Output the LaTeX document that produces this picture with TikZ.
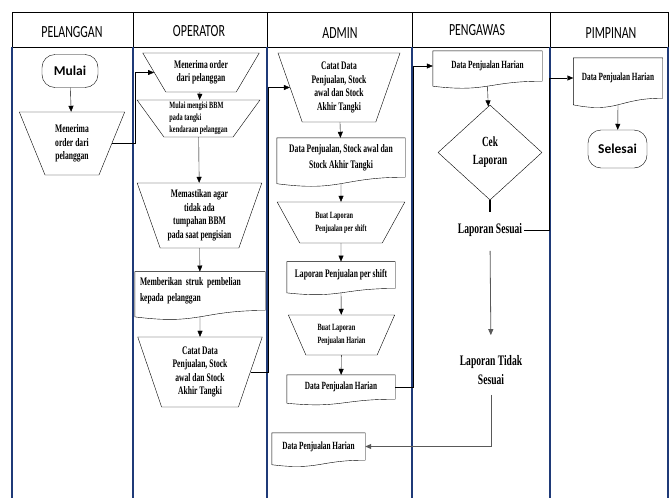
\documentclass[tikz,border=0pt]{standalone}
\usepackage{fontspec}
\newfontfamily\condfont{Liberation Serif}[FakeStretch=0.66, BoldFont={Liberation Serif Bold}]
\newfontfamily\calfont{Carlito}
\newfontfamily\hdfont{Carlito}[FakeStretch=0.7]
\usetikzlibrary{shapes.geometric,calc,arrows.meta}
\definecolor{lanenavy}{HTML}{1F3A78}

% document symbol: upper part is the node, wavy bottom drawn below it
\newcommand{\docshape}[1]{%
  \draw (#1.north west) -- (#1.north east) -- (#1.south east)
    .. controls (#1.south) and ($(#1.south)!-0.38!(#1.north)$)
    .. ($(#1.south west)!-0.165!(#1.north west)$) -- cycle;}

\begin{document}
\begin{tikzpicture}[
    x=1pt, y=-1pt,
    >={Triangle[length=6pt,width=5pt]},
    lane/.style={draw=lanenavy, line width=1.2pt},
    hd/.style={font=\hdfont\fontsize{17}{19}\selectfont},
    term/.style={draw, rounded corners=13pt, inner sep=0pt, font=\calfont\bfseries\fontsize{13.5}{15}\selectfont},
    manop/.style={draw, trapezium, shape border rotate=180, trapezium stretches=true, inner sep=0pt, align=center, font=\condfont\bfseries\fontsize{11.5}{13.5}\selectfont},
    docbox/.style={inner sep=2pt, align=center, font=\condfont\bfseries\fontsize{11.5}{16}\selectfont},
    decision/.style={draw, diamond, inner sep=0pt, align=center, font=\condfont\bfseries\fontsize{14}{18}\selectfont},
    lbl/.style={inner sep=2pt, align=center, font=\condfont\bfseries\fontsize{14.5}{19}\selectfont},
    gline/.style={draw=black!65, line width=0.8pt}
]
    \useasboundingbox (0,0) rectangle (671,498);

    % Lanes
    \draw (12,12) rectangle (668,47);
    \foreach \x in {133,267,412,550} \draw (\x,12) -- (\x,47);
    \foreach \x in {12,133,267,412,550,668} \draw[lane] (\x,47) -- (\x,498);

    \node[hd] (hpel) at (72,32) {PELANGGAN};
    \node[hd] (hop) at (199,31) {OPERATOR};
    \node[hd] (had) at (340,33) {ADMIN};
    \node[hd] (hpg) at (477,30) {PENGAWAS};
    \node[hd] (hpm) at (611,33) {PIMPINAN};

    % Pelanggan
    \node[term, minimum width=56pt, minimum height=33pt] (mulai) at (70,71) {Mulai};
    \node[manop, minimum width=106pt, minimum height=63pt, trapezium angle=66.8] (terima) at (72,143.5) {Menerima\\order dari\\pelanggan};
    \draw[->] (mulai) -- (terima);

    % Operator
    \node[manop, minimum width=117pt, minimum height=39pt, trapezium angle=53.8] (op1) at (201,72.5) {Menerima order\\dari pelanggan};
    \node[manop, minimum width=123pt, minimum height=37pt, trapezium angle=55.4, align=left, font=\condfont\bfseries\fontsize{9.5}{12}\selectfont] (op2) at (198.5,118.5) {Mulai mengisi BBM\\pada tangki\\kendaraan pelanggan};
    \node[manop, minimum width=125pt, minimum height=65pt, trapezium angle=70] (op3) at (199.5,215.5) {Memastikan agar\\tidak ada\\tumpahan BBM\\pada saat pengisian};
    \node[docbox, minimum width=130pt, minimum height=38.5pt, text width=120pt, align=left] (op4) at (200,291) {Memberikan struk pembelian\\kepada pelanggan};
    \docshape{op4}
    \node[manop, minimum width=125pt, minimum height=70pt, trapezium angle=71.4] (op5) at (200,372) {Catat Data\\Penjualan, Stock\\awal dan Stock\\Akhir Tangki};

    \draw[->] (terima.east) -- ++(23.5,0) |- (op1.west);
    \draw[->] (op1) -- (op2);
    \draw[->] (op2) -- (op3);
    \draw[->] (op3) -- (op4);
    \draw[->] ($(op4.south)!-0.16!(op4.north)$) -- (op5);

    % Admin
    \node[manop, minimum width=122pt, minimum height=69pt, trapezium angle=70.4] (ad1) at (339,87.5) {Catat Data\\Penjualan, Stock\\awal dan Stock\\Akhir Tangki};
    \node[docbox, minimum width=128pt, minimum height=39pt] (ad2) at (341,157.5) {Data Penjualan, Stock awal dan\\Stock Akhir Tangki};
    \docshape{ad2}
    \node[manop, minimum width=128pt, minimum height=41pt, trapezium angle=56.6, align=left, font=\condfont\bfseries\fontsize{9.5}{13}\selectfont] (ad3) at (341,222.5) {Buat Laporan\\Penjualan per shift};
    \node[docbox, minimum width=108pt, minimum height=26.5pt] (ad4) at (341,275) {Laporan Penjualan per shift};
    \docshape{ad4}
    \node[manop, minimum width=107pt, minimum height=40pt, trapezium angle=61, align=left, font=\condfont\bfseries\fontsize{9.5}{13}\selectfont] (ad5) at (341.5,335) {Buat Laporan\\Penjualan Harian};
    \node[docbox, minimum width=108pt, minimum height=24pt, font=\condfont\bfseries\fontsize{11}{13}\selectfont] (ad6) at (341,387) {Data Penjualan Harian};
    \docshape{ad6}
    \node[docbox, minimum width=93pt, minimum height=27pt, font=\condfont\bfseries\fontsize{11}{13}\selectfont] (ad7) at (318.5,446.5) {Data Penjualan Harian};
    \docshape{ad7}

    \draw[->] (op5.east) -- ++(18,0) |- (ad1.west);
    \draw[->] (ad1) -- (ad2);
    \draw[->] ($(ad2.south)!-0.16!(ad2.north)$) -- (ad3);
    \draw[->] (ad3) -- (ad4);
    \draw[->] ($(ad4.south)!-0.16!(ad4.north)$) -- (ad5);
    \draw[->] (ad5) -- (ad6);

    % Pengawas
    \node[docbox, minimum width=109pt, minimum height=30pt, font=\condfont\bfseries\fontsize{11}{13}\selectfont] (pg1) at (487.5,66) {Data Penjualan Harian};
    \docshape{pg1}
    \node[decision, minimum width=104pt, minimum height=95pt] (cek) at (490,152.5) {Cek\\Laporan};
    \node[lbl] (sesuai) at (490,230) {Laporan Sesuai};
    \node[lbl] (tidak) at (491,370) {Laporan Tidak\\Sesuai};

    \draw[->] (ad6.east) -- ++(18,0) |- (pg1.west);
    \draw[->] ($(pg1.south)!-0.16!(pg1.north)$) -- (cek);
    \draw[line width=2.5pt, shorten >=9pt] (cek.south) -- (sesuai.north);
    \draw[->, gline, shorten <=12pt, shorten >=18pt] (sesuai.south) -- (tidak.north);
    \draw[->, gline, shorten <=8pt] (tidak.south) |- (ad7.east);

    % Pimpinan
    \node[docbox, minimum width=89pt, minimum height=40pt, font=\condfont\bfseries\fontsize{11}{13}\selectfont] (pm1) at (618,78) {Data Penjualan Harian};
    \docshape{pm1}
    \node[term, minimum width=59pt, minimum height=38pt] (selesai) at (617.5,149) {Selesai};

    \draw[->] (sesuai.east) -- ++(25,0) |- (pm1.west);
    \draw[->] ($(pm1.south)!-0.16!(pm1.north)$) -- (selesai);

\end{tikzpicture}
\end{document}
